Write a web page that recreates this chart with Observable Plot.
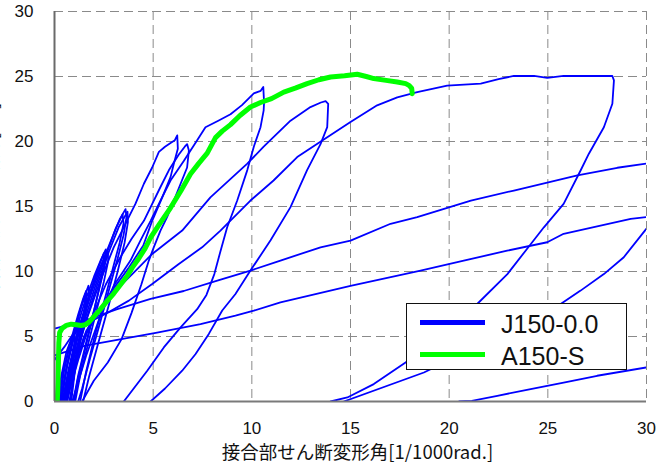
<!DOCTYPE html>
<html>
<head>
<meta charset="utf-8">
<script src="https://cdn.jsdelivr.net/npm/d3@7"></script>
<script src="https://cdn.jsdelivr.net/npm/@observablehq/plot@0.6"></script>
<style>
  html, body { margin: 0; padding: 0; background: #fff; }
  #wrap { position: relative; width: 667px; height: 464px; overflow: hidden; }
  #legend { position: absolute; left: 406px; top: 303px; width: 219px; height: 65px;
            border: 1.5px solid #111; background: #fff; }
  .sw { position: absolute; left: 13px; width: 65px; height: 4.5px; }
  .lab { position: absolute; left: 94px; font: 25px "Liberation Sans", Arial, sans-serif;
         line-height: 25px; color: #111; white-space: nowrap; }
</style>
</head>
<body>
<div id="wrap"></div>
<script>
// ---------- axis ticks & texts ----------
const xTicks = [0, 5, 10, 15, 20, 25, 30];
const yTicks = [0, 5, 10, 15, 20, 25, 30];
const xTitle = "接合部せん断変形角[1/1000rad.]";
const yTitle = "接合部入力せん断力[kN]";
const seriesNames = ["J150-0.0", "A150-S"];
const seriesColors = ["#0000ff", "#00ff00"];

// ---------- J150-0.0 (hysteresis, blue) : [deformation, force] ----------
const j150_b01 = [[0.15,0],[0.35,2],[0.6,3.8],[0.85,4.8],[1.0,5.2],[1.02,4.6],[0.85,3],[0.6,1.2],[0.45,0]];
const j150_b02 = [[0.2,0],[0.45,2.3],[0.75,4.3],[1.0,5.3],[1.15,5.8],[1.15,5.0],[0.95,3.2],[0.7,1.3],[0.55,0]];
const j150_b03 = [[0.25,0],[0.5,2.5],[0.85,4.8],[1.2,6.7],[1.45,7.9],[1.6,8.5],[1.62,7.8],[1.4,6.0],[1.1,3.6],[0.85,1.5],[0.65,0]];
const j150_b04 = [[0.3,0],[0.6,2.6],[0.95,5.0],[1.3,7.0],[1.55,8.2],[1.72,8.9],[1.75,8.2],[1.5,6.2],[1.2,3.8],[0.95,1.6],[0.75,0]];
const j150_b05 = [[0.35,0],[0.65,2.8],[1.0,5.2],[1.35,7.3],[1.55,8.2],[1.55,7.4],[1.3,5.2],[1.05,2.8],[0.8,0]];
const j150_b06 = [[0.3,0],[0.6,2.5],[1.0,5.0],[1.5,7.5],[2.0,9.6],[2.35,10.9],[2.6,11.7],[2.62,11.0],[2.4,9.5],[2.0,7.0],[1.6,4.5],[1.2,2.0],[0.95,0]];
const j150_b07 = [[0.4,0],[0.7,2.4],[1.1,5.0],[1.6,7.5],[2.1,9.6],[2.45,10.8],[2.7,11.5],[2.72,10.8],[2.5,9.2],[2.1,6.8],[1.7,4.4],[1.3,2.0],[1.05,0]];
const j150_b08 = [[0.45,0],[0.8,2.6],[1.2,5.2],[1.7,7.9],[2.15,10],[2.5,11.4],[2.52,10.6],[2.3,9.0],[1.95,6.6],[1.55,4.0],[1.15,1.5],[1.0,0]];
const j150_b09 = [[0.4,0],[0.8,2.8],[1.3,5.6],[1.9,8.5],[2.5,11.0],[3.0,12.9],[3.3,14.0],[3.6,14.8],[3.65,14.2],[3.5,12.8],[3.2,11.0],[2.8,8.8],[2.3,6.0],[1.8,3.3],[1.4,1.0],[1.2,0]];
const j150_b10 = [[0.5,0],[0.9,2.9],[1.45,5.9],[2.05,8.8],[2.65,11.4],[3.1,13.3],[3.45,14.4],[3.5,13.7],[3.3,12.2],[2.95,10.2],[2.5,7.6],[2.0,4.8],[1.6,2.3],[1.3,0]];
const j150_b11 = [[0.55,0],[1.0,3.0],[1.55,6.0],[2.15,8.9],[2.75,11.5],[3.25,13.4],[3.7,14.6],[3.72,13.8],[3.55,12.2],[3.2,10.0],[2.75,7.4],[2.2,4.4],[1.75,1.9],[1.45,0]];
const j150_m1 = [[0.5,0],[1.0,3.0],[1.6,6.2],[2.3,9.2],[3.0,11.86],[3.51,13.4],[3.77,14.2],[4.1,15.2],[4.53,16.75],[4.95,18.0],[5.29,19.2],[5.6,19.6],[5.9,19.9],[6.1,20.1],[6.22,20.47],
  [6.25,19.45],[6.05,18.3],[5.88,17.26],[5.46,15.7],[4.95,13.9],[4.5,12.0],[3.77,10.3],[2.92,8.53],[2.25,7.0],[1.6,5.4],[1.1,3.2],[0.85,0]];
const j150_m2 = [[0.6,0],[1.2,3.2],[1.9,6.5],[2.6,9.0],[3.3,11.0],[3.9,12.5],[4.53,13.9],[5.37,16.5],[5.8,17.8],[6.3,19.0],[6.6,19.6],[6.72,19.8],
  [6.81,19.3],[6.72,18.0],[6.39,16.75],[6.05,15.46],[5.71,14.2],[5.37,13.15],[5.03,11.86],[4.78,10.84],[4.4,9.0],[3.9,6.8],[3.4,4.8],[2.7,3.0],[1.99,1.6],[1.4,0]];
const j150_L1 = [[0.9,0],[1.6,3.5],[2.3,6.5],[3.0,8.9],[3.85,10.84],[4.36,12.4],[4.87,13.9],[5.37,15.46],[5.88,17.0],[6.55,18.5],[7.23,20.1],[7.65,21.1],[8.3,21.6],[8.92,22.1],[9.5,22.8],[10.1,23.7],[10.45,23.9],[10.58,24.2],
  [10.62,23.0],[10.6,22.4],[10.44,21.1],[10.1,19.6],[9.77,17.8],[9.26,15.46],[8.75,13.4],[8.4,11.5],[8.1,9.8],[7.7,8.2],[7.23,7.1],[6.39,5.7],[5.54,4.16],[4.7,2.37],[3.51,0]];
const j150_L2 = [[0.6,0],[1.0,2.5],[1.5,5.0],[2.08,6.47],[2.58,7.5],[3.26,8.78],[3.94,9.8],[4.95,11.35],[6.47,13.15],[7.9,15.7],[9.77,18.3],[10.6,19.6],[11.96,21.6],[12.97,22.65],[13.5,23.0],[13.74,23.1],
  [13.87,22.9],[13.82,21.1],[13.48,19.8],[12.8,17.8],[11.96,14.95],[10.95,12.4],[9.93,10.07],[9.17,8.27],[8.5,7.0],[7.82,5.2],[7.15,3.65],[6.47,2.37],[5.6,1.0],[4.87,0]];
const j150_L3 = [[0,3.2],[0.5,4.2],[0.9,5.1],[1.57,5.96],[2.58,6.73],[3.77,7.76],[4.95,9.04],[6.3,10.58],[7.48,11.86],[8.41,13.15],[9.93,15.46],[11.1,17.0],[12.3,18.8],[13.57,20.08],[15.0,21.5],[16.35,22.78],[17.37,23.4],[18.38,23.8],[19.9,24.3],[21.6,24.45],[22.5,24.8],[23.28,25.04],[24.3,25.04],[24.97,24.9],[25.8,25.04],[28.27,25.04],
  [28.35,24.7],[28.27,22.9],[27.84,21.1],[27.08,19.06],[26.66,17.77],[25.8,15.2],[24.8,13.4],[24.13,12.1],[22.95,9.8],[21.42,7.5],[19.5,5.0],[17.79,3.0],[16.18,1.34],[14.84,0.31],[13.99,0]];
const j150_R1 = [[0,5.6],[1.49,6.2],[3.18,7.1],[4.87,7.9],[6.55,8.5],[8.25,9.3],[9.93,10.07],[11.45,10.84],[13.48,11.86],[15.0,12.38],[17.03,13.67],[18.38,14.18],[21.1,15.46],[23.28,16.23],[26.5,17.39],[28.52,17.98],[30,18.3]];
const j150_R2 = [[0,3.55],[1.57,4.29],[5.2,5.3],[7.4,5.96],[9.17,6.6],[10.1,6.99],[11.45,7.63],[15.0,8.9],[18.55,10.07],[20.74,10.84],[22.94,11.6],[24.97,12.25],[25.8,12.9],[29.2,14.05],[30,14.18]];
const j150_D1 = [[30,13.3],[28.85,11.1],[27.84,9.8],[26.66,8.53],[25.65,7.5],[22.2,4.8],[18.72,2.23],[14.66,0]];
const j150_D2 = [[20.5,0],[21.15,0.05],[22.44,0.44],[24.13,0.95],[25.8,1.46],[27.5,1.98],[30,2.62]];

// ---------- A150-S (monotonic, green) ----------
const a150 = [[0.14,0],[0.18,1.5],[0.2,3],[0.22,4.5],[0.26,5.3],[0.4,5.65],[0.6,5.85],[0.85,5.95],[1.1,5.9],[1.35,5.85],[1.55,5.9],[1.75,6.1],[1.95,6.45],[2.3,7.05],[2.6,7.6],[3.0,8.3],[3.35,9.0],[3.7,9.7],[3.94,10.3],[4.27,11.0],[4.6,11.8],[4.87,12.6],[5.3,13.6],[5.88,14.9],[6.4,16.2],[6.89,17.5],[7.3,18.3],[7.74,19.1],[8.16,20.3],[8.5,20.8],[8.92,21.3],[9.4,22.0],[9.93,22.65],[10.44,23.0],[11.0,23.3],[11.62,23.8],[12.2,24.1],[12.8,24.45],[13.4,24.75],[13.99,24.96],[14.7,25.05],[15.34,25.17],[15.8,25.0],[16.18,24.84],[16.8,24.7],[17.37,24.58],[17.8,24.45],[17.96,24.32],[18.1,24.1],[18.13,23.68]];

// ---------- build tables ----------
const j150Loops = [j150_b01, j150_b02, j150_b03, j150_b04, j150_b05, j150_b06, j150_b07, j150_b08, j150_b09, j150_b10, j150_b11,
                   j150_m1, j150_m2, j150_L1, j150_L2, j150_L3, j150_R1, j150_R2, j150_D1, j150_D2];
const blueRows = j150Loops.flatMap((pts, i) => pts.map(([x, y]) => ({x, y, id: i})));
const greenRows = a150.map(([x, y]) => ({x, y}));

const tickFont = "Liberation Sans, Arial, sans-serif";
const cjkFont = "Noto Sans CJK JP, sans-serif";
const gridStyle = {stroke: "#8a8a8a", strokeOpacity: 1, strokeWidth: 1, strokeDasharray: "9,5"};

const chart = Plot.plot({
  width: 667,
  height: 464,
  marginLeft: 54,
  marginRight: 21,
  marginTop: 11,
  marginBottom: 63,
  style: {fontFamily: tickFont, fontSize: "17px", background: "#fff", color: "#111"},
  x: {domain: [0, 30], label: null},
  y: {domain: [0, 30], label: null},
  marks: [
    Plot.gridX(xTicks, gridStyle),
    Plot.gridY(yTicks, gridStyle),
    Plot.line(blueRows, {x: "x", y: "y", z: "id", stroke: seriesColors[0], strokeWidth: 1.8, clip: true}),
    Plot.line(greenRows, {x: "x", y: "y", stroke: seriesColors[1], strokeWidth: 5, clip: true}),
    Plot.ruleX([0], {stroke: "#6a6a6a", strokeWidth: 2}),
    Plot.ruleY([0], {stroke: "#7a7a7a", strokeWidth: 2}),
    Plot.axisX(xTicks, {tickSize: 0, tickPadding: 20, fontSize: 17, fill: "#111", label: null}),
    Plot.axisY(yTicks, {tickSize: 0, tickPadding: 21, fontSize: 17, fill: "#111", label: null}),
    Plot.text([xTitle], {frameAnchor: "bottom", dy: 52, dx: 7, lineAnchor: "middle", fontSize: 18.5, fontFamily: cjkFont, fill: "#111"}),
    Plot.text([yTitle], {frameAnchor: "left", textAnchor: "middle", rotate: -90, dx: -57, lineAnchor: "bottom", fontSize: 19, fontFamily: cjkFont, fill: "#111"})
  ]
});

const wrap = document.getElementById("wrap");
wrap.appendChild(chart);

// ---------- legend ----------
const legend = document.createElement("div");
legend.id = "legend";
const swTops = [16, 48];
const labTops = [8, 39.5];
seriesNames.forEach((name, i) => {
  const sw = document.createElement("div");
  sw.className = "sw";
  sw.style.top = swTops[i] + "px";
  sw.style.background = seriesColors[i];
  legend.appendChild(sw);
  const lab = document.createElement("div");
  lab.className = "lab";
  lab.style.top = labTops[i] + "px";
  lab.textContent = name;
  legend.appendChild(lab);
});
wrap.appendChild(legend);
</script>
</body>
</html>
